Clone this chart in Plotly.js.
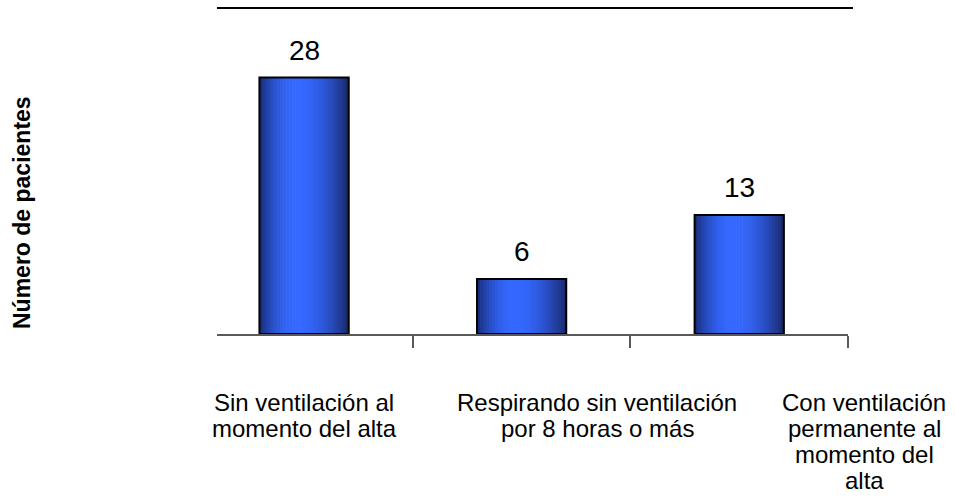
<!DOCTYPE html>
<html>
<head>
<meta charset="utf-8">
<script src="https://cdn.plot.ly/plotly-3.0.1.min.js"></script>
<style>html,body{margin:0;padding:0;background:#fff;}#chart{width:955px;height:496px;}</style>
</head>
<body>
<div id="chart"></div>
<script>
// ---- data ----
const categories = [
  "Sin ventilación al<br>momento del alta",
  "Respirando sin ventilación<br>por 8 horas o más",
  "Con ventilación<br>permanente al<br>momento del<br>alta"
];
const values = [28, 6, 13];
const yAxisTitle = "Número de pacientes";

// ---- styling ----
const FONT = "Liberation Sans, Arial, sans-serif";
const W = 955, H = 496;
const L = 217, R = 848, T = 8, B = 334;
const BAR_W = 0.41;
const N = 30;

function gradColor(t) {
  // dark navy edges, bright blue peak slightly left of centre
  const peak = 0.42;
  const d = t < peak ? (peak - t) / peak : (t - peak) / (1 - peak);
  const f = Math.cos(d * Math.PI / 2);
  const dark = t < peak ? [22, 40, 110] : [22, 36, 96];
  const bright = [52, 104, 255];
  const c = dark.map((v, k) => Math.round(v + (bright[k] - v) * Math.pow(f, 0.8)));
  return `rgb(${c[0]},${c[1]},${c[2]})`;
}

const traces = [];
const sw = BAR_W / N;
for (let i = 0; i < N; i++) {
  traces.push({
    type: 'bar', x: categories, y: values,
    width: sw + 0.003, offset: -BAR_W / 2 + i * sw,
    marker: { color: gradColor((i + 0.5) / N), line: { width: 0 } },
    hoverinfo: 'skip', showlegend: false
  });
}
traces.push({
  type: 'bar', x: categories, y: values,
  width: BAR_W, offset: -BAR_W / 2,
  marker: { color: 'rgba(0,0,0,0)', line: { color: '#000', width: 2 } },
  showlegend: false, hoverinfo: 'x+y'
});

const annotations = [];
// value labels
values.forEach((v, i) => {
  annotations.push({
    x: categories[i], y: v, xref: 'x', yref: 'y',
    text: String(v), showarrow: false, yanchor: 'bottom', yshift: 10,
    font: { family: FONT, size: 28, color: '#000' }
  });
});
// category labels (line by line)
const labelCentersPx = [304, 597, 864];
const lineStep = 26;
categories.forEach((c, i) => {
  c.split('<br>').forEach((line, j) => {
    annotations.push({
      x: (labelCentersPx[i] - L) / (R - L), y: 0, xref: 'paper', yref: 'paper',
      text: line, showarrow: false, xanchor: 'center', yanchor: 'top',
      yshift: -53 - j * lineStep,
      font: { family: FONT, size: 24, color: '#000' }
    });
  });
});
// y-axis title
annotations.push({
  x: (22 - L) / (R - L), y: (B - 213) / (B - T), xref: 'paper', yref: 'paper',
  text: '<b>' + yAxisTitle + '</b>', textangle: -90, showarrow: false,
  xanchor: 'center', yanchor: 'middle',
  font: { family: FONT, size: 23, color: '#000' }
});

const layout = {
  width: W, height: H,
  margin: { l: L, r: W - R, t: T, b: H - B, pad: 0 },
  paper_bgcolor: '#fff', plot_bgcolor: '#fff',
  barmode: 'overlay',
  showlegend: false,
  xaxis: {
    type: 'category', range: [-0.40, 2.5],
    showticklabels: false, showgrid: false, zeroline: false,
    showline: true, linecolor: '#595959', linewidth: 2,
    ticks: 'outside', tickson: 'boundaries', ticklen: 12, tickwidth: 2, tickcolor: '#595959',
    fixedrange: true
  },
  yaxis: {
    range: [0, 35.6], visible: false, showgrid: false, zeroline: false, fixedrange: true
  },
  shapes: [{
    type: 'line', xref: 'paper', yref: 'paper',
    x0: 0, x1: (853 - L) / (R - L), y0: 1, y1: 1,
    line: { color: '#000', width: 2 }
  }],
  annotations: annotations
};

Plotly.newPlot('chart', traces, layout, { displayModeBar: false, staticPlot: true });
</script>
</body>
</html>
